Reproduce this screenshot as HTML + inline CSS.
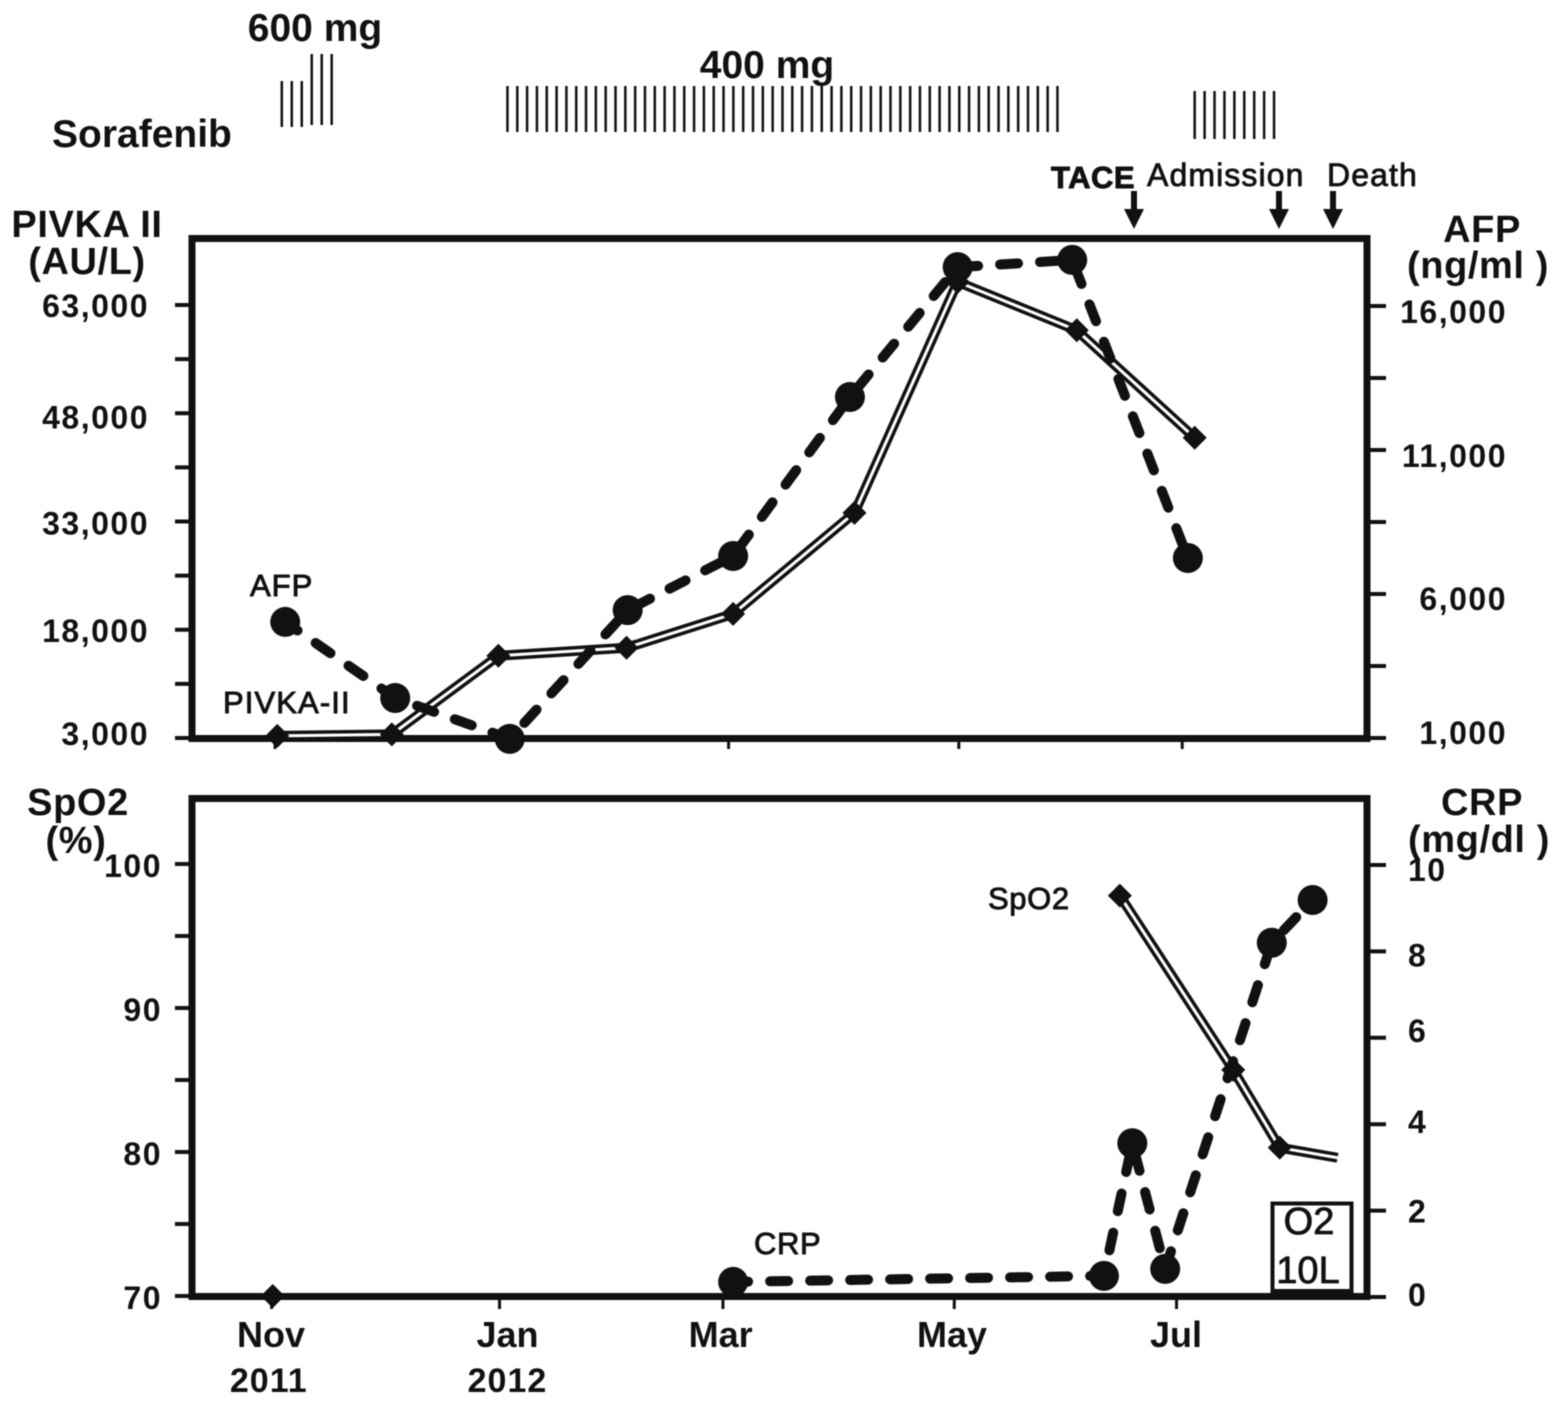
<!DOCTYPE html>
<html lang="en">
<head>
<meta charset="utf-8">
<title>Sorafenib treatment course chart</title>
<style>
html,body{margin:0;padding:0;background:#fff;width:1559px;height:1407px;overflow:hidden}
svg{display:block;filter:blur(0.5px)}
text{font-family:"Liberation Sans",sans-serif;fill:#111}
.b{font-weight:700;font-size:32px;letter-spacing:1.5px}
.m{font-weight:700;font-size:36px}
.y{font-weight:700;font-size:34px;letter-spacing:1px}
.t{font-weight:700;font-size:38px;letter-spacing:.6px}
.n{font-size:31px;stroke:#111;stroke-width:.9px;letter-spacing:.6px}
.w{font-size:32px;stroke:#111;stroke-width:.8px;letter-spacing:1.1px}
.h{font-weight:700;font-size:39px}
</style>
</head>
<body>
<svg id="chart" xmlns="http://www.w3.org/2000/svg" width="1559" height="1407" viewBox="0 0 1559 1407">
  <text class="h" x="315" y="41" text-anchor="middle">600 mg</text>
  <text class="h" x="767" y="78" text-anchor="middle">400 mg</text>
  <text class="h" x="52" y="147">Sorafenib</text>

  <text class="t" x="87" y="237" text-anchor="middle">PIVKA II</text>
  <text class="t" x="87" y="274" text-anchor="middle">(AU/L)</text>
  <text class="t" x="1482" y="242" text-anchor="middle">AFP</text>
  <text class="t" x="1478" y="278" text-anchor="middle">(ng/ml )</text>
  <text class="t" x="78" y="815" text-anchor="middle">SpO2</text>
  <text class="t" x="76" y="853" text-anchor="middle">(%)</text>
  <text class="t" x="1482" y="815" text-anchor="middle">CRP</text>
  <text class="t" x="1479" y="852" text-anchor="middle">(mg/dl )</text>

  <text class="n" x="1051" y="188" style="font-weight:700;letter-spacing:.5px">TACE</text>
  <text class="w" x="1147" y="186">Admission</text>
  <text class="w" x="1327" y="186">Death</text>
  <g><path d="M1134 191V214" stroke="#111" stroke-width="6"/><path d="M1124 209H1144L1134 229Z" fill="#111"/></g>
  <g><path d="M1279 191V214" stroke="#111" stroke-width="6"/><path d="M1269 209H1289L1279 229Z" fill="#111"/></g>
  <g><path d="M1333 191V214" stroke="#111" stroke-width="6"/><path d="M1323 209H1343L1333 229Z" fill="#111"/></g>

  <rect x="192" y="238.500" width="1175" height="500" fill="none" stroke="#111" stroke-width="7"/>
  <rect x="192" y="798.500" width="1175" height="498" fill="none" stroke="#111" stroke-width="7"/>

  <text class="n" x="250" y="596" style="letter-spacing:1px">AFP</text>
  <text class="n" x="223" y="713" style="letter-spacing:1.1px">PIVKA-II</text>
  <text class="n" x="988" y="909">SpO2</text>
  <text class="n" x="754" y="1254">CRP</text>

  <g>
    <rect x="1272.500" y="1203.500" width="79" height="92" fill="#fff" stroke="#111" stroke-width="4"/>
    <rect x="1272" y="1289" width="80" height="8" fill="#111"/>
    <text x="1309" y="1234" text-anchor="middle" style="font-size:38px;stroke:#111;stroke-width:.8px">O2</text>
    <text x="1308" y="1283" text-anchor="middle" style="font-size:38px;stroke:#111;stroke-width:.8px">10L</text>
  </g>

  <g id="layer-ticks"></g>
  <g id="layer-labels"></g>
  <g id="layer-dose"></g>
  <g id="layer-series"></g>
</svg>
<script>
// Categories and tick labels
const monthLabels = ["Nov", "Jan", "Mar", "May", "Jul"];
const yearLabels = ["2011", "2012"];
const upperTickMonths = [0, 2, 4, 6.03, 8];
const lowerTickMonths = [-0.03, 1.98, 3.95, 5.99, 7.95];
const monthLabelMonths = [-0.035, 2.05, 3.93, 5.97, 7.945];
const yearLabelMonths = [-0.055, 2.05];
const pivkaTicks = [3000, 18000, 33000, 48000, 63000];
const afpTicks = [1000, 6000, 11000, 16000];
const spo2Ticks = [70, 80, 90, 100];
const crpTicks = [0, 2, 4, 6, 8, 10];

// Series values (x = months since Nov 2011)
const pivkaMonths = [0.02, 1.03, 1.97, 3.1, 4.04, 5.11, 6.02, 7.07, 8.11];
const pivkaValues = [3300, 3500, 14400, 15500, 20200, 34200, 66200, 59500, 44600];
const afpMonths = [0.09, 1.06, 2.07, 3.11, 4.04, 5.07, 6.02, 7.03, 8.05];
const afpValues = [5030, 2390, 970, 5440, 7320, 12840, 17350, 17600, 7250];
const spo2Months = [7.45, 8.45, 8.86, 9.37];
const spo2Values = [97.8, 85.7, 80.3, 79.6];
const spo2MarkerFlags = [1, 1, 1, 0];
const spo2StartMonth = [-0.02];
const spo2StartValue = [70];
const crpMonths = [4.04, 7.31, 7.56, 7.85, 8.79, 9.15];
const crpValues = [0.35, 0.49, 3.56, 0.65, 8.2, 9.19];
const doseStartMonths = [0.06, 2.05, 8.11];
const doseEndMonths = [0.5, 6.9, 8.81];
const doseCounts = [6, 57, 9];

const NS = "http://www.w3.org/2000/svg";
const xMonth = m => 275 + 113.4 * m;
const yPivka = v => 738 - (v - 3000) / 60000 * 433;
const yAfp = v => 738 - (v - 1000) / 5000 * 144;
const ySpo2 = v => 1296 - (v - 70) * 14.4;
const yCrp = v => 1297 - v * 43.2;

const ticksLayer = document.getElementById("layer-ticks");
const labelsLayer = document.getElementById("layer-labels");
const doseLayer = document.getElementById("layer-dose");
const seriesLayer = document.getElementById("layer-series");

function make(tag, parent, attrs) {
  const el = document.createElementNS(NS, tag);
  Object.keys(attrs).forEach(k => el.setAttribute(k, attrs[k]));
  parent.appendChild(el);
  return el;
}
function tickLine(x1, y1, x2, y2, w) {
  const el = make("line", ticksLayer, {x1, y1, x2, y2, stroke: "#111", "stroke-width": w});
  
  
}
function tickLabel(str, x, y, anchor, cls) {
  const el = make("text", labelsLayer, {x, y, "text-anchor": anchor, class: cls || "b"});
  el.textContent = str;
  
  
}

// Left-hand axis ticks, major plus midpoint minor
pivkaTicks.forEach((v, i) => {
  tickLine(175, yPivka(v), 192, yPivka(v), 4);
  if (i < pivkaTicks.length - 1) tickLine(175, yPivka(v + 7500), 192, yPivka(v + 7500), 4);
  const nudge = i === 0 ? 7 : (i === 3 ? 15 : (i === 2 ? 13 : 12));
  tickLabel(v.toLocaleString("en-US"), 149, yPivka(v) + nudge, "end");
});
afpTicks.forEach((v, i) => {
  tickLine(1367, yAfp(v), 1386, yAfp(v), 4);
  if (i < afpTicks.length - 1) tickLine(1367, yAfp(v + 2500), 1386, yAfp(v + 2500), 4);
  const nudge = i === 0 ? 6 : (i === 1 ? 16 : 17);
  tickLabel(v.toLocaleString("en-US"), 1507, yAfp(v) + nudge, "end");
});
spo2Ticks.forEach((v, i) => {
  tickLine(175, ySpo2(v), 192, ySpo2(v), 4);
  if (i < spo2Ticks.length - 1) tickLine(175, ySpo2(v + 5), 192, ySpo2(v + 5), 4);
  tickLabel(String(v), 162, ySpo2(v) + 13, "end");
});
crpTicks.forEach((v, i) => {
  tickLine(1367, yCrp(v), 1386, yCrp(v), 4);
  const nudge = i === 5 ? 16 : (i === 4 ? 15 : (i === 3 ? 4 : (i === 2 ? 9 : (i === 1 ? 12 : 9))));
  tickLabel(String(v), 1408, yCrp(v) + nudge, "start");
});
upperTickMonths.forEach(m => tickLine(xMonth(m), 738, xMonth(m), 749, 3));
lowerTickMonths.forEach(m => tickLine(xMonth(m), 1297, xMonth(m), 1309, 3));
monthLabels.forEach((label, i) => {
  tickLabel(label, xMonth(monthLabelMonths[i]), 1347, "middle", "m");
});
yearLabels.forEach((label, i) => {
  tickLabel(label, xMonth(yearLabelMonths[i]), 1392, "middle", "y");
});

// Sorafenib dose bars
doseCounts.forEach((count, g) => {
  const step = (doseEndMonths[g] - doseStartMonths[g]) / (count - 1);
  for (let i = 0; i < count; i++) {
    const x = xMonth(doseStartMonths[g] + i * step);
    let top = g === 1 ? 86 : 91;
    let bottom = g === 1 ? 132 : 139;
    if (g === 0) { top = i < 3 ? 81 : 54; bottom = i < 3 ? 127 : 125; }
    const bar = make("line", doseLayer, {x1: x, x2: x, y1: top, y2: bottom, stroke: "#111", "stroke-width": 2.5});
    
    
  }
});

// Series drawing
function pointList(ms, vs, yFn) {
  return ms.map((m, i) => xMonth(m) + "," + yFn(vs[i])).join(" ");
}
function doubleLine(ms, vs, yFn) {
  const pts = pointList(ms, vs, yFn);
  const outer = make("polyline", seriesLayer, {points: pts, fill: "none", stroke: "#111", "stroke-width": 10, "stroke-linejoin": "miter"});
  
  
  const inner = make("polyline", seriesLayer, {points: pts, fill: "none", stroke: "#fff", "stroke-width": 3, "stroke-linejoin": "miter"});
  
  
}
function dashedLine(ms, vs, yFn) {
  const line = make("polyline", seriesLayer, {points: pointList(ms, vs, yFn), fill: "none", stroke: "#111", "stroke-width": 10, "stroke-dasharray": "18 22", "stroke-dashoffset": 3, "stroke-linecap": "round", "stroke-linejoin": "round"});
  
  
}
function diamond(m, v, yFn, r) {
  const x = xMonth(m), y = yFn(v);
  const d = make("polygon", seriesLayer, {points: [x - r, y, x, y - r, x + r, y, x, y + r].join(" "), fill: "#111"});
  
  
}
function dot(m, v, yFn) {
  const c = make("circle", seriesLayer, {cx: xMonth(m), cy: yFn(v), r: 15, fill: "#111"});
  
  
}

doubleLine(pivkaMonths, pivkaValues, yPivka);
pivkaMonths.forEach((m, i) => diamond(m, pivkaValues[i], yPivka, 12));
dashedLine(afpMonths, afpValues, yAfp);
afpMonths.forEach((m, i) => dot(m, afpValues[i], yAfp));

doubleLine(spo2Months, spo2Values, ySpo2);
spo2Months.forEach((m, i) => { if (spo2MarkerFlags[i]) diamond(m, spo2Values[i], ySpo2, 12); });
spo2StartMonth.forEach((m, i) => diamond(m, spo2StartValue[i], ySpo2, 12));
dashedLine(crpMonths, crpValues, yCrp);
crpMonths.forEach((m, i) => dot(m, crpValues[i], yCrp));
</script>
</body>
</html>
